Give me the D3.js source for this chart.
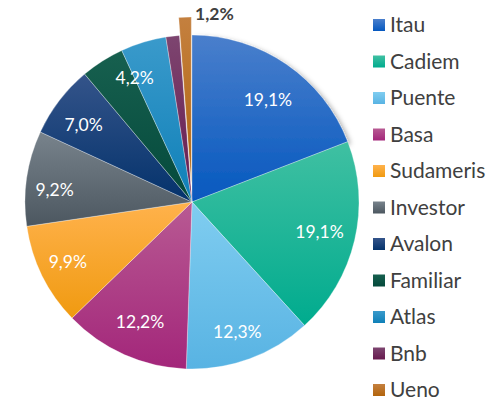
<!DOCTYPE html>
<html lang="es">
<head>
<meta charset="utf-8">
<style>
  html, body { margin: 0; padding: 0; background: #fff; }
  text { font-family: Lato, "Open Sans", sans-serif; }
</style>
</head>
<body>
<script src="https://cdn.jsdelivr.net/npm/d3@7"></script>
<script>
// datos del grafico
var names  = ['Itau', 'Cadiem', 'Puente', 'Basa', 'Sudameris', 'Investor', 'Avalon', 'Familiar', 'Atlas', 'Bnb', 'Ueno'];
var shares = [19.1, 19.1, 12.3, 12.2, 9.9, 9.2, 7.0, 4.2, 4.4, 1.3, 1.2];
var shown  = ['19,1%', '19,1%', '12,3%', '12,2%', '9,9%', '9,2%', '7,0%', '4,2%', '', '', '1,2%'];

// colores (arriba claro, abajo oscuro)
var topCol = ['#4a7fcc', '#40c0a2', '#80cdf0', '#b85a93', '#ffb24c', '#78838c', '#34548a', '#17604f', '#3a9acb', '#7d4570', '#c4803f'];
var botCol = ['#0558bf', '#00ab8e', '#58b3e3', '#a3267a', '#f09a10', '#4c5760', '#04326b', '#04493b', '#0f80b8', '#671a4e', '#b2640c'];

var W = 489, H = 401;
var cx = 192, cy = 202, R = 167;

var svg = d3.select('body').append('svg')
    .attr('width', W)
    .attr('height', H);

var defs = svg.append('defs');
names.forEach(function(n, i) {
  var g = defs.append('linearGradient')
      .attr('id', 'grad' + i)
      .attr('x1', 0).attr('y1', 0).attr('x2', 0).attr('y2', 1);
  g.append('stop').attr('offset', '0%').attr('stop-color', topCol[i]);
  g.append('stop').attr('offset', '100%').attr('stop-color', botCol[i]);
});
defs.append('filter').attr('id', 'sombra')
    .attr('x', '-20%').attr('y', '-20%').attr('width', '140%').attr('height', '140%')
  .append('feDropShadow')
    .attr('dx', 3).attr('dy', 2).attr('stdDeviation', 2.5)
    .attr('flood-color', '#000').attr('flood-opacity', 0.3);

var pie = d3.pie().sort(null).value(function(d) { return d; });
var arcs = pie(shares);

var arc = d3.arc().innerRadius(0).outerRadius(R);

// separacion de la porcion Ueno
var explode = [0, 0, 0, 0, 0, 0, 0, 0, 0, 0, 18];

var g = svg.append('g').attr('transform', 'translate(' + [cx, cy] + ')');

function offset(d, i) {
  var a = (d.startAngle + d.endAngle) / 2;
  return [Math.sin(a) * explode[i], -Math.cos(a) * explode[i]];
}

g.selectAll('path.slice')
  .data(arcs)
  .enter().append('path')
    .attr('class', 'slice')
    .attr('d', arc)
    .attr('transform', function(d, i) { return 'translate(' + offset(d, i) + ')'; })
    .attr('fill', function(d, i) { return 'url(#grad' + i + ')'; })
    .attr('stroke', '#fff')
    .attr('stroke-opacity', 0.5)
    .attr('stroke-width', 0.6)
    .attr('filter', function(d, i) { return i === 0 ? 'url(#sombra)' : null; });

// etiquetas dentro (ajuste fino de angulo y radio)
var nudge  = [2.3, 0, 1, -0.6, 0.4, -3, -2, 7.7, 0, 0, 0];
var labelR = [127, 131, 138, 131, 138, 138, 133, 137, 135, 135, 135];
function labelPos(d) {
  var a = (d.startAngle + d.endAngle) / 2 + nudge[d.index] * Math.PI / 180;
  return [Math.sin(a) * labelR[d.index], -Math.cos(a) * labelR[d.index]];
}
g.selectAll('text.inner')
  .data(arcs.filter(function(d, i) { return i < 10 && shown[i]; }))
  .enter().append('text')
    .attr('class', 'inner')
    .attr('x', function(d) { return labelPos(d)[0]; })
    .attr('y', function(d) { return labelPos(d)[1]; })
    .attr('dy', '0.35em')
    .attr('text-anchor', 'middle')
    .attr('font-size', '17.5px')
    .attr('fill', '#fff')
    .text(function(d) { return shown[d.index]; });

// etiqueta de Ueno (fuera, negrita)
var ue = arcs[10];
var ueA = (ue.startAngle + ue.endAngle) / 2;
var ueR = R + explode[10];
g.append('text')
    .attr('x', Math.sin(ueA) * ueR + 10)
    .attr('y', -Math.cos(ueA) * ueR - 3)
    .attr('dy', '0.35em')
    .attr('font-size', '17.5px')
    .attr('font-weight', 'bold')
    .attr('fill', '#404040')
    .text(shown[10]);

// leyenda
var legY = d3.scalePoint().domain(names).range([25, 390]);
var leg = svg.append('g').selectAll('g')
  .data(names)
  .enter().append('g')
    .attr('transform', function(d) { return 'translate(' + [373, legY(d)] + ')'; });
leg.append('rect')
    .attr('x', 0).attr('y', -6)
    .attr('width', 12).attr('height', 12)
    .attr('fill', function(d, i) { return 'url(#grad' + i + ')'; });
leg.append('text')
    .attr('x', 17)
    .attr('dy', '0.35em')
    .attr('font-size', '21px')
    .attr('fill', '#404040')
    .text(function(d) { return d; });
</script>
</body>
</html>
